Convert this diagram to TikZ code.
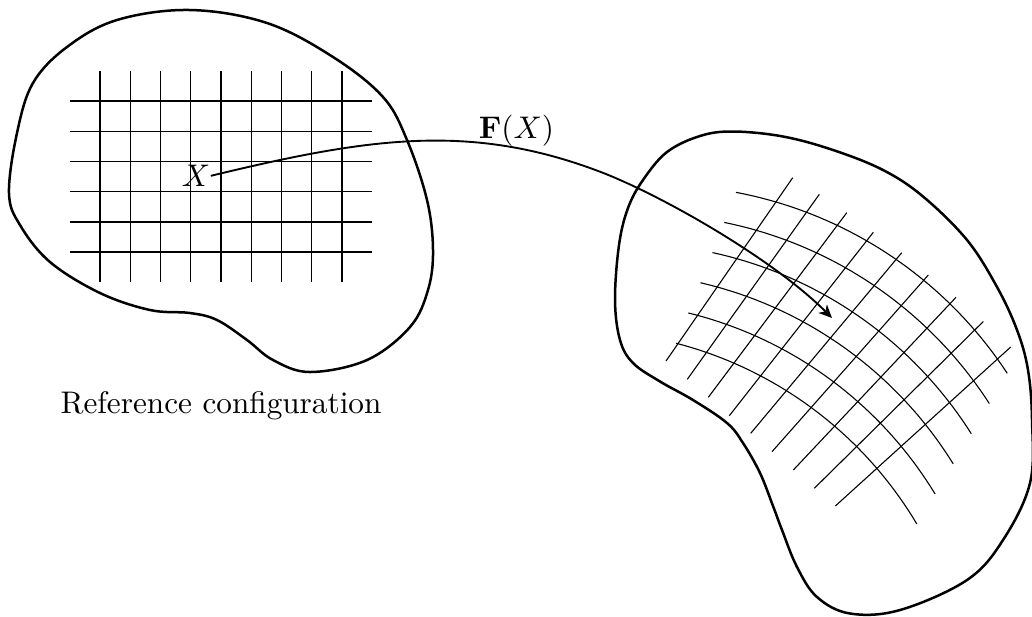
\documentclass[tikz,border=0pt]{standalone}
\usetikzlibrary{arrows.meta}
\begin{document}
\begin{tikzpicture}[x=0.32pt,y=-0.32pt,
  outline/.style={line width=0.8pt, line join=round},
  lgrid/.style={line width=0.45pt},
  rgrid/.style={line width=0.35pt},
  mapcurve/.style={line width=0.6pt, -{Stealth[length=4.2pt,width=3.8pt,inset=1.2pt]}},
  lbl/.style={inner sep=0pt, anchor=base}]
\useasboundingbox (0,0) rectangle (1032,616);

% reference body
\draw[outline] plot[smooth cycle, tension=0.6] coordinates {
  (190,10) (267,23) (333,57) (383,97) (407,140) (427,200) (433,250)
  (428,290) (410,327) (367,360) (310,372) (273,360) (247,340) (217,320)
  (190,313) (150,310) (100,293) (50,262) (20,225) (9,193) (17,133)
  (33,83) (67,47) (117,20)};

% reference grid
\foreach \i in {0,...,8}
  \draw[lgrid] ({100+30.25*\i},71) -- ({100+30.25*\i},282);
\foreach \j in {0,...,5}
  \draw[lgrid] (70,{101+30.2*\j}) -- (372,{101+30.2*\j});

% deformed body
\draw[outline] plot[smooth cycle, tension=0.6] coordinates {
  (733,131.5) (783,136.5) (833,150) (883,170) (923,196.5) (967,240)
  (997,287) (1017,330) (1028,370) (1032,420) (1030,483) (1003,540)
  (967,580) (900,610) (850,613.5) (817,597) (797,567) (782,530)
  (773,506) (760,473) (743,443) (727,423) (693,400) (660,381.5)
  (633,363) (620,340) (615,300) (619,245) (628,208) (643,180)
  (667,152) (700,136)};

% deformed grid: arcs
\foreach \j in {0,...,5}{
  \pgfmathsetmacro\ccx{658.1-16.3*\j}
  \pgfmathsetmacro\ccy{602.9+24.7*\j}
  \pgfmathsetmacro\rr{417.9-4.4*\j}
  \pgfmathsetmacro\aA{-79.26+0.764*\j}
  \pgfmathsetmacro\aB{-33.33+0.514*\j}
  \draw[rgrid] plot[domain=\aA:\aB, samples=40, variable=\t]
    ({\ccx+\rr*cos(\t)},{\ccy+\rr*sin(\t)});
}
% deformed grid: transversal lines
\foreach \a/\b/\c/\d in {792.7/177.7/666/361, 819.3/194.3/687.3/379.3,
  846.7/212.7/708.3/397.3, 873.3/232.3/729.3/415.7, 901.7/252.7/750.7/433.3,
  928.3/275/772/451.7, 956/297.3/793.3/470, 983.3/321.5/814.3/488.3,
  1010.7/347/835.3/506}
  \draw[rgrid] (\a,\b) -- (\c,\d);

% labels
\node[lbl] (X) at (196,186.5) {$X$};
\node[lbl] (FX) at (516.5,138.3) {$\mathbf{F}(X)$};
\node[lbl] (ref) at (221,413.3) {Reference configuration};

% mapping arrow
\coordinate (mid) at (600,171.7);
\coordinate (tip) at (832,318);
\draw[mapcurve] (X.east) .. controls (368,137.8) and (470,122.3) .. (mid)
  .. controls (660,194.5) and (772,258) .. (tip);
\end{tikzpicture}
\end{document}
